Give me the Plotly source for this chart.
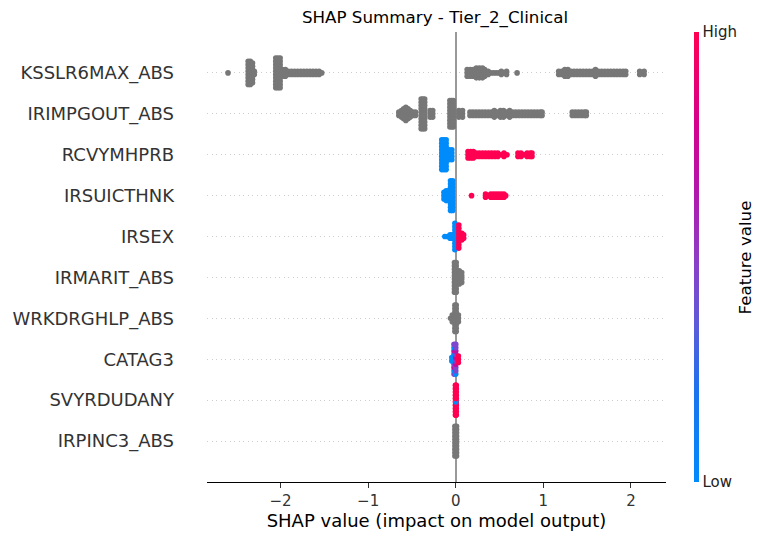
import plotly.graph_objects as go

# ---------------- data ----------------
FEATURES = ["KSSLR6MAX_ABS", "IRIMPGOUT_ABS", "RCVYMHPRB", "IRSUICTHNK", "IRSEX",
            "IRMARIT_ABS", "WRKDRGHLP_ABS", "CATAG3", "SVYRDUDANY", "IRPINC3_ABS"]

# each feature: x = SHAP value of a beeswarm column, n = number of stacked dots,
# v = feature value (0 low .. 1 high), None = no feature value (grey)
KSSLR6MAX_X = [-2.60, -2.37, -2.345, -2.32, -2.30, -2.055, -2.03, -2.005,
               -1.98, -1.945, -1.91, -1.875, -1.84, -1.805, -1.77, -1.735, -1.70,
               -1.665, -1.63, -1.595, -1.56, -1.53,
               0.13, 0.165, 0.20, 0.235, 0.27, 0.305, 0.33, 0.37, 0.40, 0.43, 0.46,
               0.49, 0.52, 0.55, 0.58, 0.70,
               1.175, 1.21, 1.245, 1.28, 1.315, 1.35, 1.385, 1.42, 1.455, 1.49,
               1.525, 1.56, 1.595, 1.63, 1.665, 1.70, 1.735, 1.77, 1.805, 1.84,
               1.875, 1.91, 1.94, 2.10, 2.15]
KSSLR6MAX_N = [1, 8, 8, 7, 2, 10, 10, 10,
               3, 3, 2, 2, 2, 2, 2, 2, 2,
               2, 2, 2, 2, 1,
               3, 3, 3, 4, 4, 4, 3, 2, 1, 1, 1,
               1, 2, 1, 2, 1,
               2, 2, 3, 3, 2, 2, 2, 2, 2, 2,
               2, 2, 3, 2, 2, 2, 2, 2, 2, 2,
               2, 2, 2, 2, 2]
KSSLR6MAX_V = None

IRIMPGOUT_X = [-0.65, -0.62, -0.595, -0.57, -0.545, -0.52, -0.49, -0.46,
               -0.395, -0.375, -0.355, -0.293, -0.263,
               -0.067, -0.045, -0.028, 0.035, 0.077, 0.162,
               0.195, 0.23, 0.265, 0.30, 0.335, 0.37, 0.405, 0.44, 0.475, 0.51,
               0.545, 0.58, 0.615, 0.65, 0.685, 0.72, 0.755, 0.79, 0.825, 0.86,
               0.895, 0.93, 0.965, 0.985,
               1.33, 1.365, 1.40, 1.435, 1.47, 1.49]
IRIMPGOUT_N = [2, 3, 4, 5, 4, 3, 2, 2,
               10, 10, 10, 3, 3,
               9, 9, 9, 3, 3, 2,
               2, 2, 2, 2, 2, 2, 2, 3, 2, 3,
               3, 2, 3, 2, 2, 2, 2, 2, 2, 2,
               2, 2, 2, 2,
               2, 2, 2, 2, 2, 2]
IRIMPGOUT_V = None

RCVYMHPRB_X = [-0.16, -0.135, -0.11, -0.075, -0.045,
               0.14, 0.17, 0.20, 0.235, 0.27, 0.305, 0.34, 0.375, 0.41, 0.445,
               0.48, 0.515, 0.55, 0.585,
               0.71, 0.745, 0.78, 0.815, 0.85, 0.87]
RCVYMHPRB_N = [10, 10, 10, 4, 4,
               3, 3, 3, 2, 2, 2, 2, 2, 2, 2,
               2, 1, 2, 1,
               2, 2, 1, 2, 2, 2]
RCVYMHPRB_V = [0, 0, 0, 0, 0,
               1, 1, 1, 1, 1, 1, 1, 1, 1, 1,
               1, 1, 1, 1,
               1, 1, 1, 1, 1, 1]

IRSUICTHNK_X = [-0.135, -0.11, -0.085, -0.06, -0.035,
                0.18, 0.34, 0.37, 0.40, 0.43, 0.46, 0.49, 0.52, 0.55, 0.57]
IRSUICTHNK_N = [3, 4, 4, 10, 10,
                1, 2, 1, 2, 2, 2, 2, 2, 2, 1]
IRSUICTHNK_V = [0, 0, 0, 0, 0,
                1, 1, 1, 1, 1, 1, 1, 1, 1, 1]

IRSEX_X = [-0.125, -0.095, -0.065, -0.04, -0.01, 0.035, 0.07, 0.09]
IRSEX_N = [1, 1, 2, 2, 9, 8, 3, 2]
IRSEX_V = [0, 0, 0, 0, 0, 1, 1, 1]

IRMARIT_X = [-0.015, 0.005, 0.04, 0.068]
IRMARIT_N = [10, 10, 5, 4]
IRMARIT_V = None

WRKDRGHLP_X = [-0.06, -0.04, -0.01, 0.005, 0.03]
WRKDRGHLP_N = [1, 3, 9, 9, 3]
WRKDRGHLP_V = None

CATAG3_X = [-0.045, -0.02, 0.0, 0.03]
CATAG3_N = [2, 10, 10, 3]
CATAG3_V = [[0, 0],
            [0.45, 0.0, 0.7, 0.45, 0.0, 0.0, 0.0, 0.7, 0.0, 0.45],
            [0.0, 0.45, 0.45, 0.7, 0.45, 0.7, 0.45, 0.7, 0.45, 0.45],
            [1, 1, 1]]

SVYRDUDANY_X = [-0.004, 0.006, 0.0]
SVYRDUDANY_N = [10, 10, 10]
SVYRDUDANY_V = [1, 1, [1, 1, 1, 1, 0, 1, 1, 1, 1, 1]]

IRPINC3_X = [-0.01, 0.009]
IRPINC3_N = [10, 10]
IRPINC3_V = None

X_TICKS = [-2, -1, 0, 1, 2]
CB_TICKS = ["Low", "High"]

ROWS = [
    (KSSLR6MAX_X, KSSLR6MAX_N, KSSLR6MAX_V),
    (IRIMPGOUT_X, IRIMPGOUT_N, IRIMPGOUT_V),
    (RCVYMHPRB_X, RCVYMHPRB_N, RCVYMHPRB_V),
    (IRSUICTHNK_X, IRSUICTHNK_N, IRSUICTHNK_V),
    (IRSEX_X, IRSEX_N, IRSEX_V),
    (IRMARIT_X, IRMARIT_N, IRMARIT_V),
    (WRKDRGHLP_X, WRKDRGHLP_N, WRKDRGHLP_V),
    (CATAG3_X, CATAG3_N, CATAG3_V),
    (SVYRDUDANY_X, SVYRDUDANY_N, SVYRDUDANY_V),
    (IRPINC3_X, IRPINC3_N, IRPINC3_V),
]

# ---------------- layout constants ----------------
W, H = 767, 540
ML, MR, MT, MB = 204, 101, 32, 58
PLOT_H = H - MT - MB
NF = len(FEATURES)
PX_PER_ROW = PLOT_H / (NF + 1)
DY = 3.3 / PX_PER_ROW          # vertical spacing of stacked dots (data units)
DOT = 5.6
FONT = "DejaVu Sans"

COLORSCALE = [[0.0, "#008bfb"], [0.2, "#1a74ee"], [0.35, "#5d5bd9"],
              [0.5, "#8f3cc5"], [0.65, "#b316ab"], [0.8, "#d6008c"],
              [1.0, "#ff0052"]]

gx, gy, cx, cy, cv = [], [], [], [], []
for i, (xs, ns, vs) in enumerate(ROWS):
    ypos = NF - 1 - i
    for j, (x, n) in enumerate(zip(xs, ns)):
        for k in range(n):
            y = ypos + (k - (n - 1) / 2) * DY
            if vs is None:
                gx.append(x); gy.append(y)
            else:
                v = vs[j]
                val = v[k] if isinstance(v, list) else v
                cx.append(x); cy.append(y); cv.append(val)

fig = go.Figure()
fig.add_trace(go.Scatter(
    x=gx, y=gy, mode="markers", hoverinfo="skip", showlegend=False,
    marker=dict(size=DOT, color="#777777", line=dict(width=0)),
))
fig.add_trace(go.Scatter(
    x=cx, y=cy, mode="markers", hoverinfo="skip", showlegend=False,
    marker=dict(
        size=DOT, color=cv, colorscale=COLORSCALE, cmin=0, cmax=1,
        line=dict(width=0), showscale=True,
        colorbar=dict(
            x=(694 - ML) / (W - ML - MR), xanchor="left", xpad=0,
            y=0.5, yanchor="middle", len=1, lenmode="fraction", ypad=0,
            thickness=5, outlinewidth=0, ticks="",
            tickvals=[0, 1], ticktext=CB_TICKS,
            tickfont=dict(family=FONT, size=15, color="#222222"),
        ),
    ),
))

fig.add_annotation(
    text="Feature value", xref="paper", yref="paper",
    x=(746 - ML) / (W - ML - MR), y=0.5, xanchor="center", yanchor="middle",
    textangle=-90, showarrow=False,
    font=dict(family=FONT, size=16.7, color="#000000"),
)

fig.update_layout(
    width=W, height=H, autosize=False,
    margin=dict(l=ML, r=MR, t=MT, b=MB, pad=0),
    paper_bgcolor="white", plot_bgcolor="white",
    font=dict(family=FONT, color="#000000"),
    title=dict(text="SHAP Summary - Tier_2_Clinical", x=(435) / W, xanchor="center",
               y=1 - 17 / H, yanchor="middle", yref="container",
               font=dict(family=FONT, size=16.7, color="#000000")),
    xaxis=dict(
        range=[-2.84, 2.40], tickvals=X_TICKS, ticks="outside", ticklen=5,
        tickwidth=1, tickcolor="#333333",
        tickfont=dict(family=FONT, size=15, color="#333333"),
        showline=True, linecolor="#000000", linewidth=1.1, mirror=False,
        showgrid=False, zeroline=True, zerolinecolor="#999999", zerolinewidth=2,
        title=dict(text="SHAP value (impact on model output)", standoff=5,
                   font=dict(family=FONT, size=18, color="#000000")),
    ),
    yaxis=dict(
        range=[-1, NF], tickvals=list(range(NF)), ticktext=FEATURES[::-1],
        ticks="", showline=False, zeroline=False,
        showgrid=True, gridcolor="#cccccc", gridwidth=0.8, griddash="1px,3.5px",
        tickfont=dict(family=FONT, size=18, color="#333333"),
        ticklabelstandoff=32,
    ),
)

fig.write_html("out.html")
